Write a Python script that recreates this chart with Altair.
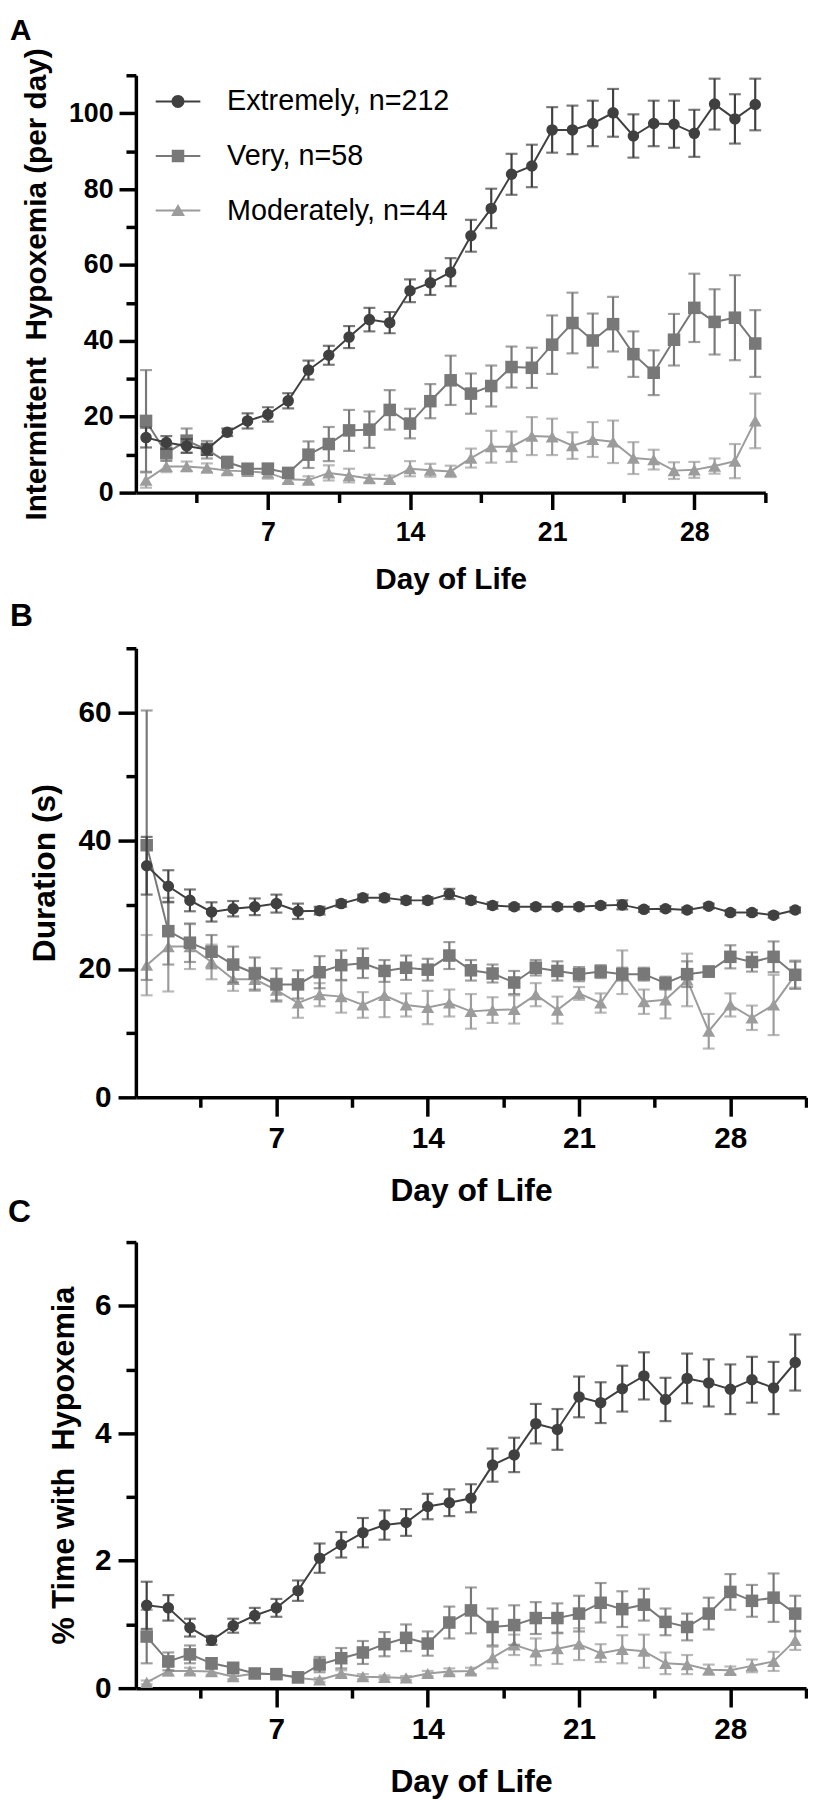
import altair as alt
import pandas as pd

DAYS = list(range(1, 32))
SERIES = ["Extremely, n=212", "Very, n=58", "Moderately, n=44"]

# Panel A: Intermittent hypoxemia (per day), mean and SEM
A_EXT = [14.5, 13.2, 12.3, 11.4, 15.9, 18.9, 20.6, 24.2, 32.3, 36.2, 41.0, 45.6, 44.8, 53.2, 55.3, 58.1,
         67.7, 74.9, 83.9, 86.1, 95.6, 95.6, 97.3, 100.1, 94.0, 97.3, 97.1, 94.7, 102.4, 98.5, 102.3]
A_EXT_E = [2.6, 1.7, 1.8, 1.5, 1.0, 2.0, 1.9, 2.0, 2.5, 2.5, 2.9, 3.1, 2.8, 3.0, 3.2, 3.7,
           4.2, 5.2, 5.4, 5.6, 6.0, 6.4, 6.0, 6.3, 5.7, 6.0, 6.2, 6.2, 6.7, 6.5, 6.8]
A_VERY = [18.9, 10.4, 13.7, 11.3, 8.0, 6.3, 6.3, 5.2, 10.0, 12.8, 16.4, 16.6, 21.8, 18.2, 24.1, 29.6,
          26.1, 28.1, 33.1, 32.9, 39.0, 44.7, 40.1, 44.4, 36.5, 31.6, 40.3, 48.7, 45.0, 46.1, 39.3]
A_VERY_E = [13.4, 2.0, 3.2, 2.3, 1.5, 1.2, 1.3, 1.2, 3.5, 4.5, 5.4, 4.8, 5.2, 3.9, 4.5, 6.5,
            5.3, 5.4, 5.4, 5.3, 7.7, 8.0, 7.1, 7.2, 6.0, 5.9, 6.8, 9.0, 8.6, 11.2, 8.8]
A_MOD = [3.3, 6.9, 6.9, 6.5, 5.8, 5.6, 5.2, 3.5, 3.3, 5.2, 4.5, 3.7, 3.5, 6.3, 5.9, 5.6,
         9.1, 12.1, 12.1, 14.9, 14.7, 12.4, 14.0, 13.4, 9.1, 8.7, 5.8, 6.0, 7.0, 8.3, 18.9]
A_MOD_E = [2.0, 1.5, 1.3, 1.2, 1.0, 1.0, 1.5, 1.0, 1.0, 2.0, 1.8, 1.0, 1.0, 2.0, 1.7, 1.5,
           2.5, 4.2, 4.0, 5.0, 4.8, 3.5, 4.6, 5.6, 4.2, 2.6, 2.2, 2.1, 2.0, 4.5, 7.2]

# Panel B: Duration (s)
B_EXT = [36.1, 32.9, 30.7, 28.9, 29.4, 29.7, 30.2, 29.0, 29.1, 30.2, 31.1, 31.1, 30.7, 30.7, 31.7, 30.7,
         29.9, 29.7, 29.7, 29.7, 29.7, 29.9, 30.0, 29.3, 29.4, 29.2, 29.8, 28.8, 28.8, 28.4, 29.2]
B_EXT_E = [4.5, 2.5, 1.7, 1.5, 1.2, 1.3, 1.4, 1.2, 0.6, 0.5, 0.5, 0.5, 0.5, 0.5, 0.8, 0.5,
           0.5, 0.4, 0.4, 0.4, 0.4, 0.4, 0.7, 0.4, 0.4, 0.4, 0.4, 0.4, 0.4, 0.4, 0.4]
B_VERY = [39.3, 25.9, 24.1, 22.7, 20.7, 19.3, 17.6, 17.6, 19.5, 20.6, 20.9, 19.7, 20.2, 19.9, 22.1, 19.8,
          19.3, 17.9, 20.2, 19.7, 19.2, 19.6, 19.2, 19.2, 17.8, 19.2, 19.6, 21.9, 21.1, 21.9, 19.1]
B_VERY_E = [21.0, 5.2, 3.0, 2.6, 2.8, 2.5, 2.5, 2.2, 2.5, 2.3, 2.3, 1.7, 1.9, 1.7, 2.1, 1.6,
            1.4, 1.8, 1.2, 1.5, 1.1, 1.0, 1.0, 1.0, 1.0, 2.0, 0.8, 1.8, 1.5, 2.4, 2.2]
B_MOD = [20.6, 23.5, 23.5, 21.1, 18.4, 18.4, 16.7, 14.7, 16.0, 15.7, 14.4, 15.9, 14.4, 14.0, 14.7, 13.4,
         13.6, 13.7, 16.0, 13.6, 16.2, 14.7, 19.5, 14.9, 15.2, 18.3, 10.3, 14.4, 12.4, 14.4, 19.1]
B_MOD_E = [4.7, 7.0, 3.5, 2.7, 1.8, 1.8, 1.8, 2.3, 1.8, 2.5, 2.0, 3.4, 1.8, 2.6, 2.1, 2.7,
           2.0, 2.2, 1.8, 2.1, 1.0, 1.5, 3.4, 1.9, 2.9, 4.1, 2.7, 1.8, 1.9, 4.7, 2.0]

# Panel C: % time with hypoxemia
C_EXT = [1.30, 1.26, 0.95, 0.75, 0.98, 1.14, 1.26, 1.53, 2.04, 2.25, 2.44, 2.56, 2.60, 2.85, 2.91, 2.98,
         3.50, 3.66, 4.15, 4.06, 4.57, 4.48, 4.70, 4.90, 4.53, 4.86, 4.79, 4.69, 4.84, 4.71, 5.11]
C_EXT_E = [0.37, 0.20, 0.14, 0.07, 0.11, 0.12, 0.14, 0.16, 0.23, 0.20, 0.23, 0.23, 0.21, 0.20, 0.21, 0.22,
           0.26, 0.27, 0.31, 0.32, 0.32, 0.32, 0.36, 0.37, 0.34, 0.39, 0.37, 0.39, 0.36, 0.41, 0.44]
C_VERY = [0.81, 0.42, 0.53, 0.39, 0.32, 0.23, 0.22, 0.17, 0.37, 0.47, 0.56, 0.69, 0.79, 0.70, 1.03, 1.22,
          0.96, 0.99, 1.10, 1.10, 1.17, 1.34, 1.24, 1.31, 1.04, 0.96, 1.17, 1.51, 1.37, 1.42, 1.17]
C_VERY_E = [0.42, 0.14, 0.14, 0.08, 0.06, 0.05, 0.05, 0.05, 0.12, 0.16, 0.18, 0.19, 0.21, 0.19, 0.25, 0.36,
            0.29, 0.31, 0.25, 0.23, 0.28, 0.31, 0.28, 0.25, 0.21, 0.21, 0.25, 0.28, 0.25, 0.38, 0.28]
C_MOD = [0.09, 0.27, 0.27, 0.26, 0.18, 0.23, 0.22, 0.16, 0.13, 0.23, 0.18, 0.17, 0.16, 0.23, 0.26, 0.27,
         0.48, 0.68, 0.57, 0.62, 0.69, 0.55, 0.61, 0.58, 0.39, 0.37, 0.29, 0.28, 0.35, 0.42, 0.75]
C_MOD_E = [0.03, 0.07, 0.05, 0.05, 0.04, 0.04, 0.04, 0.03, 0.03, 0.05, 0.04, 0.03, 0.03, 0.04, 0.05, 0.05,
           0.17, 0.16, 0.21, 0.24, 0.25, 0.14, 0.22, 0.26, 0.17, 0.15, 0.08, 0.06, 0.10, 0.15, 0.15]

X_TICKS = [3.5, 7, 10.5, 14, 17.5, 21, 24.5, 28, 31.5]

COLORS = ["#404040", "#787878", "#9c9c9c"]
SHAPES = ["circle", "square", "triangle-up"]
SIZES = [135, 160, 170]
LINE = "M-1,-0.045L1,-0.045L1,0.045L-1,0.045Z"
LEGEND_PATHS = [
    LINE + "M0.29,0A0.29,0.29,0,1,1,-0.29,0A0.29,0.29,0,1,1,0.29,0Z",
    LINE + "M-0.28,-0.28L0.28,-0.28L0.28,0.28L-0.28,0.28Z",
    LINE + "M0,-0.3L0.31,0.24L-0.31,0.24Z",
]
FONT = "Liberation Sans"
NBSP = "\u00a0"


def make_df(groups):
    rows = []
    for name, (vals, errs) in zip(SERIES, groups):
        for d, v, e in zip(DAYS, vals, errs):
            rows.append({"day": d, "series": name, "v": v, "lo": v - e, "hi": v + e})
    return pd.DataFrame(rows)


def panel(df, letter, ytitle, ymax, ystep, ylab, width, height, lab_fs, ytitle_fs, xtitle_fs,
          title_fs, title_dx, title_offset, ymajor, xmajor, ylabpad, xlabpad, ytpad, xtpad, legend=False):
    yvals = [round(ystep * k, 6) for k in range(int(round(ymax / ystep)) + 1)]
    xaxis = alt.Axis(
        values=X_TICKS, title="Day of Life",
        labelExpr="datum.value % 7 === 0 ? '' + datum.value : ''",
        tickSize={"condition": {"test": "datum.value % 7 === 0", "value": xmajor}, "value": 10},
        labelFontSize=lab_fs, labelPadding=xlabpad, titleFontSize=xtitle_fs, titlePadding=xtpad,
    )
    ytest = f"abs(datum.value / {ylab} - round(datum.value / {ylab})) < 0.001"
    yaxis = alt.Axis(
        values=yvals, title=ytitle,
        labelExpr=f"{ytest} ? '' + datum.value : ''",
        tickSize={"condition": {"test": ytest, "value": ymajor}, "value": 10},
        labelFontSize=lab_fs, labelPadding=ylabpad, titleFontSize=ytitle_fs, titlePadding=ytpad,
    )
    xs = alt.Scale(domain=[0.5, 31.5], nice=False, zero=False)
    ys = alt.Scale(domain=[0, ymax], nice=False)
    X = alt.X("day:Q", scale=xs, axis=xaxis)
    layers = []
    for i in [2, 1, 0]:
        name, col = SERIES[i], COLORS[i]
        base = alt.Chart(df).transform_filter(alt.datum.series == name)
        layers.append(base.mark_errorbar(ticks=True, size=12, thickness=2.2, color=col).encode(
            x=X, y=alt.Y("lo:Q", scale=ys, axis=yaxis), y2="hi:Q"))
        layers.append(base.mark_line(color=col, strokeWidth=2).encode(
            x=X, y=alt.Y("v:Q", scale=ys, axis=yaxis)))
        layers.append(base.mark_point(shape=SHAPES[i], filled=True, size=SIZES[i], color=col, opacity=1,
                                      strokeWidth=0).encode(
            x=X, y=alt.Y("v:Q", scale=ys, axis=yaxis)))
    if legend:
        leg = alt.Legend(orient="none", legendX=20, legendY=4, title=None, symbolSize=2025,
                         symbolStrokeWidth=0, symbolOpacity=1, labelFontSize=29, labelFont=FONT,
                         labelFontWeight="normal", labelColor="black", labelOffset=27, rowPadding=17,
                         padding=0, labelLimit=500)
        layers.append(alt.Chart(df).mark_point(filled=True, opacity=0).encode(
            x=X, y=alt.Y("v:Q", scale=ys, axis=yaxis),
            shape=alt.Shape("series:N", scale=alt.Scale(domain=SERIES, range=LEGEND_PATHS), legend=leg),
            color=alt.Color("series:N", scale=alt.Scale(domain=SERIES, range=COLORS), legend=leg),
        ))
    return alt.layer(*layers).properties(
        width=width, height=height,
        title=alt.TitleParams(letter, anchor="start", frame="group", dx=title_dx, fontSize=title_fs,
                              font=FONT, fontWeight="bold", color="black", baseline="alphabetic",
                              offset=title_offset),
    )


dfA = make_df([(A_EXT, A_EXT_E), (A_VERY, A_VERY_E), (A_MOD, A_MOD_E)])
dfB = make_df([(B_EXT, B_EXT_E), (B_VERY, B_VERY_E), (B_MOD, B_MOD_E)])
dfC = make_df([(C_EXT, C_EXT_E), (C_VERY, C_VERY_E), (C_MOD, C_MOD_E)])

pA = panel(dfA, "A", "Intermittent" + NBSP + " Hypoxemia (per day)", 110, 10, 20, 635, 421, 27, 30, 30, 30,
           -127, -22, 17, 17, 6, 10, 17, 20, legend=True)
pB = panel(dfB, "B", "Duration (s)", 70, 10, 20, 676, 453, 30, 32, 32, 32,
           -127, -25, 18, 19, 7, 8, 17, 22)
pC = panel(dfC, "C", "% Time with" + NBSP + " Hypoxemia", 7, 1, 2, 676, 450, 30, 31, 32, 32,
           -129, -27, 18, 19, 7, 8, 14, 22)

top = alt.vconcat(pA, pB, spacing=6)
chart = alt.vconcat(top, pC, spacing=-10).properties(
    padding={"left": 0, "top": 0, "right": 0, "bottom": 0}
).configure_view(stroke=None).configure_axis(
    grid=False, domainColor="black", domainWidth=3.5, tickColor="black", tickWidth=3.5,
    labelFont=FONT, labelFontWeight="bold", labelColor="black", titleFont=FONT,
    titleFontWeight="bold", titleColor="black", labelOverlap=False, labelFlush=False,
)

chart.save("out.html", embed_options={"renderer": "svg", "actions": False})
